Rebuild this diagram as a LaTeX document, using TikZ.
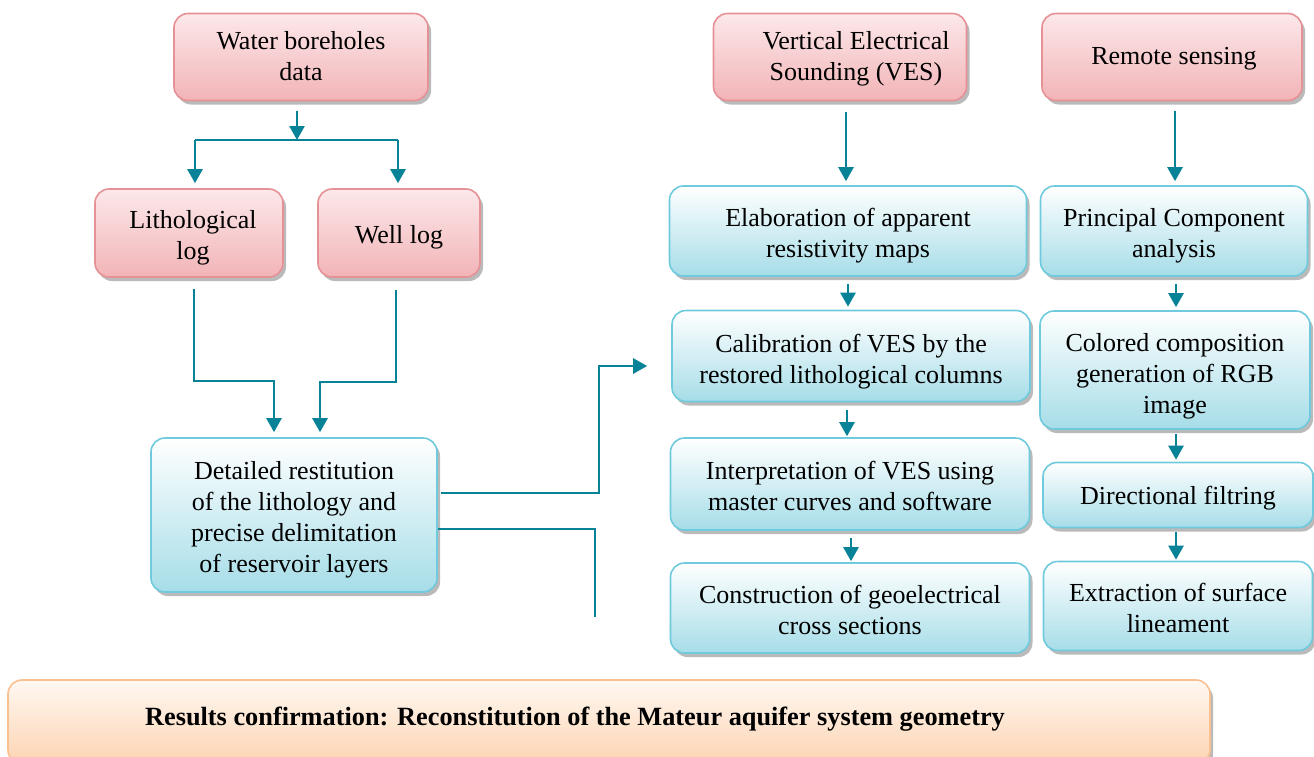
\documentclass[tikz,border=0pt]{standalone}
\usepackage{fontspec}
\setmainfont{Liberation Serif}
\usetikzlibrary{arrows.meta,shadows,calc}
\definecolor{arrcol}{RGB}{8,130,150}
\definecolor{pinkborder}{RGB}{230,145,150}
\definecolor{pinktop}{RGB}{252,232,234}
\definecolor{pinkbot}{RGB}{242,180,183}
\definecolor{blueborder}{RGB}{110,202,220}
\definecolor{bluetop}{RGB}{255,255,255}
\definecolor{bluebot}{RGB}{166,221,232}
\definecolor{orborder}{RGB}{250,192,144}
\definecolor{ortop}{RGB}{255,248,242}
\definecolor{orbot}{RGB}{252,212,178}
\tikzset{
  boxbase/.style={rounded corners=14pt, line width=1.6pt, inner sep=0pt,
    drop shadow={shadow xshift=3pt, shadow yshift=-4pt, fill=black!45, opacity=0.6}},
  pinkbox/.style={boxbase, draw=pinkborder, top color=pinktop, bottom color=pinkbot},
  bluebox/.style={boxbase, draw=blueborder, top color=bluetop, bottom color=bluebot},
  orbox/.style={boxbase, draw=orborder, top color=ortop, bottom color=orbot},
  boxtext/.style={inner sep=0pt, align=center, font=\fontsize{26}{31}\selectfont},
  arr/.style={draw=arrcol, line width=2.5pt, -{Triangle[width=15pt,length=14pt]}},
  conn/.style={draw=arrcol, line width=2.5pt},
}
\begin{document}
\begin{tikzpicture}[x=1pt,y=-1pt]
\useasboundingbox (0,0) rectangle (1314,756);
% left column
\node[pinkbox, minimum width=254pt, minimum height=87pt,
  label={[boxtext,yshift=1pt]center:{Water boreholes\\data}}] (wb) at (301,57) {};
\node[pinkbox, minimum width=188pt, minimum height=88pt,
  label={[boxtext,xshift=4pt,yshift=-5pt]center:{Lithological\\log}}] (litho) at (189,233) {};
\node[pinkbox, minimum width=162pt, minimum height=88pt,
  label={[boxtext,yshift=-4pt]center:{Well log}}] (well) at (399,233) {};
\node[bluebox, minimum width=286pt, minimum height=154pt,
  label={[boxtext,yshift=-5pt]center:{Detailed restitution\\of the lithology and\\precise delimitation\\of reservoir layers}}] (detail) at (294,515) {};
% VES column
\node[pinkbox, minimum width=253pt, minimum height=87pt,
  label={[boxtext,xshift=16pt,yshift=-2pt]center:{Vertical Electrical\\Sounding (VES)}}] (ves) at (840,57) {};
\node[bluebox, minimum width=357pt, minimum height=90pt,
  label={[boxtext,yshift=-5pt]center:{Elaboration of apparent\\resistivity maps}}] (elab) at (848,231) {};
\node[bluebox, minimum width=358pt, minimum height=91pt,
  label={[boxtext,yshift=-6pt]center:{Calibration of VES by the\\restored lithological columns}}] (calib) at (851,356) {};
\node[bluebox, minimum width=359pt, minimum height=92pt,
  label={[boxtext,yshift=-2pt]center:{Interpretation of VES using\\master curves and software}}] (interp) at (850,484) {};
\node[bluebox, minimum width=359pt, minimum height=90pt,
  label={[boxtext,yshift=-2pt]center:{Construction of geoelectrical\\cross sections}}] (constr) at (850,608) {};
% Remote sensing column
\node[pinkbox, minimum width=260pt, minimum height=87pt,
  label={[boxtext,xshift=2pt,yshift=-2pt]center:{Remote sensing}}] (rs) at (1172,57) {};
\node[bluebox, minimum width=267pt, minimum height=90pt,
  label={[boxtext,yshift=-5pt]center:{Principal Component\\analysis}}] (pca) at (1174,231) {};
\node[bluebox, minimum width=270pt, minimum height=118pt,
  label={[boxtext,yshift=-6pt]center:{Colored composition\\generation of RGB\\image}}] (color) at (1175,370) {};
\node[bluebox, minimum width=270pt, minimum height=65pt,
  label={[boxtext,yshift=-3pt]center:{Directional filtring}}] (dir) at (1178,495) {};
\node[bluebox, minimum width=269pt, minimum height=89pt,
  label={[boxtext,yshift=-2pt]center:{Extraction of surface\\lineament}}] (extr) at (1178,606) {};
% results
\node[orbox, minimum width=1202pt, minimum height=84pt,
  label={[boxtext,font=\fontsize{26.3}{31}\selectfont\bfseries,xshift=-34pt,yshift=3pt]center:{Results confirmation: Reconstitution of the Mateur aquifer system geometry}}] (res) at (609,722) {};
% connectors left
\coordinate (bar) at (297,140);
\draw[arr] ([xshift=-4pt,yshift=-10pt]wb.south) -- (bar);
\draw[conn] (bar) -- ([xshift=6pt]bar -| litho.north);
\draw[conn] (bar) -- ([xshift=-1pt]bar -| well.north);
\draw[arr] ([xshift=6pt]bar -| litho.north) -- ([xshift=6pt,yshift=5pt]litho.north);
\draw[arr] ([xshift=-1pt]bar -| well.north) -- ([xshift=-1pt,yshift=5pt]well.north);
\draw[arr] ([xshift=5pt,yshift=-11pt]litho.south) -- ++(0,92) -| ([xshift=-20pt,yshift=5pt]detail.north);
\draw[arr] ([xshift=-3pt,yshift=-12pt]well.south) -- ++(0,92) -| ([xshift=26pt,yshift=5pt]detail.north);
\draw[arr] ([xshift=3pt,yshift=22pt]detail.east) -- ++(158,0) |- ([xshift=-24pt,yshift=-10pt]calib.west);
\draw[conn] ([yshift=-14pt]detail.east) -- ++(157,0) -- ++(0,88);
% VES connectors
\draw[arr] ([xshift=6pt,yshift=-11pt]ves.south) -- ([xshift=-2pt,yshift=4pt]elab.north);
\draw[arr] ([yshift=-7pt]elab.south) -- ([xshift=-3pt,yshift=3pt]calib.north);
\draw[arr] ([xshift=-4pt,yshift=-8pt]calib.south) -- ([xshift=-3pt,yshift=1pt]interp.north);
\draw[arr] ([xshift=1pt,yshift=-7pt]interp.south) -- ([xshift=1pt,yshift=1pt]constr.north);
% RS connectors
\draw[arr] ([xshift=3pt,yshift=-10pt]rs.south) -- ([xshift=1pt,yshift=4pt]pca.north);
\draw[arr] ([xshift=2pt,yshift=-7pt]pca.south) -- ([xshift=1pt,yshift=3pt]color.north);
\draw[arr] ([xshift=1pt,yshift=-4pt]color.south) -- ([xshift=-2pt,yshift=2pt]dir.north);
\draw[arr] ([xshift=-2pt,yshift=-4pt]dir.south) -- ([xshift=-2pt,yshift=1pt]extr.north);
\end{tikzpicture}
\end{document}
